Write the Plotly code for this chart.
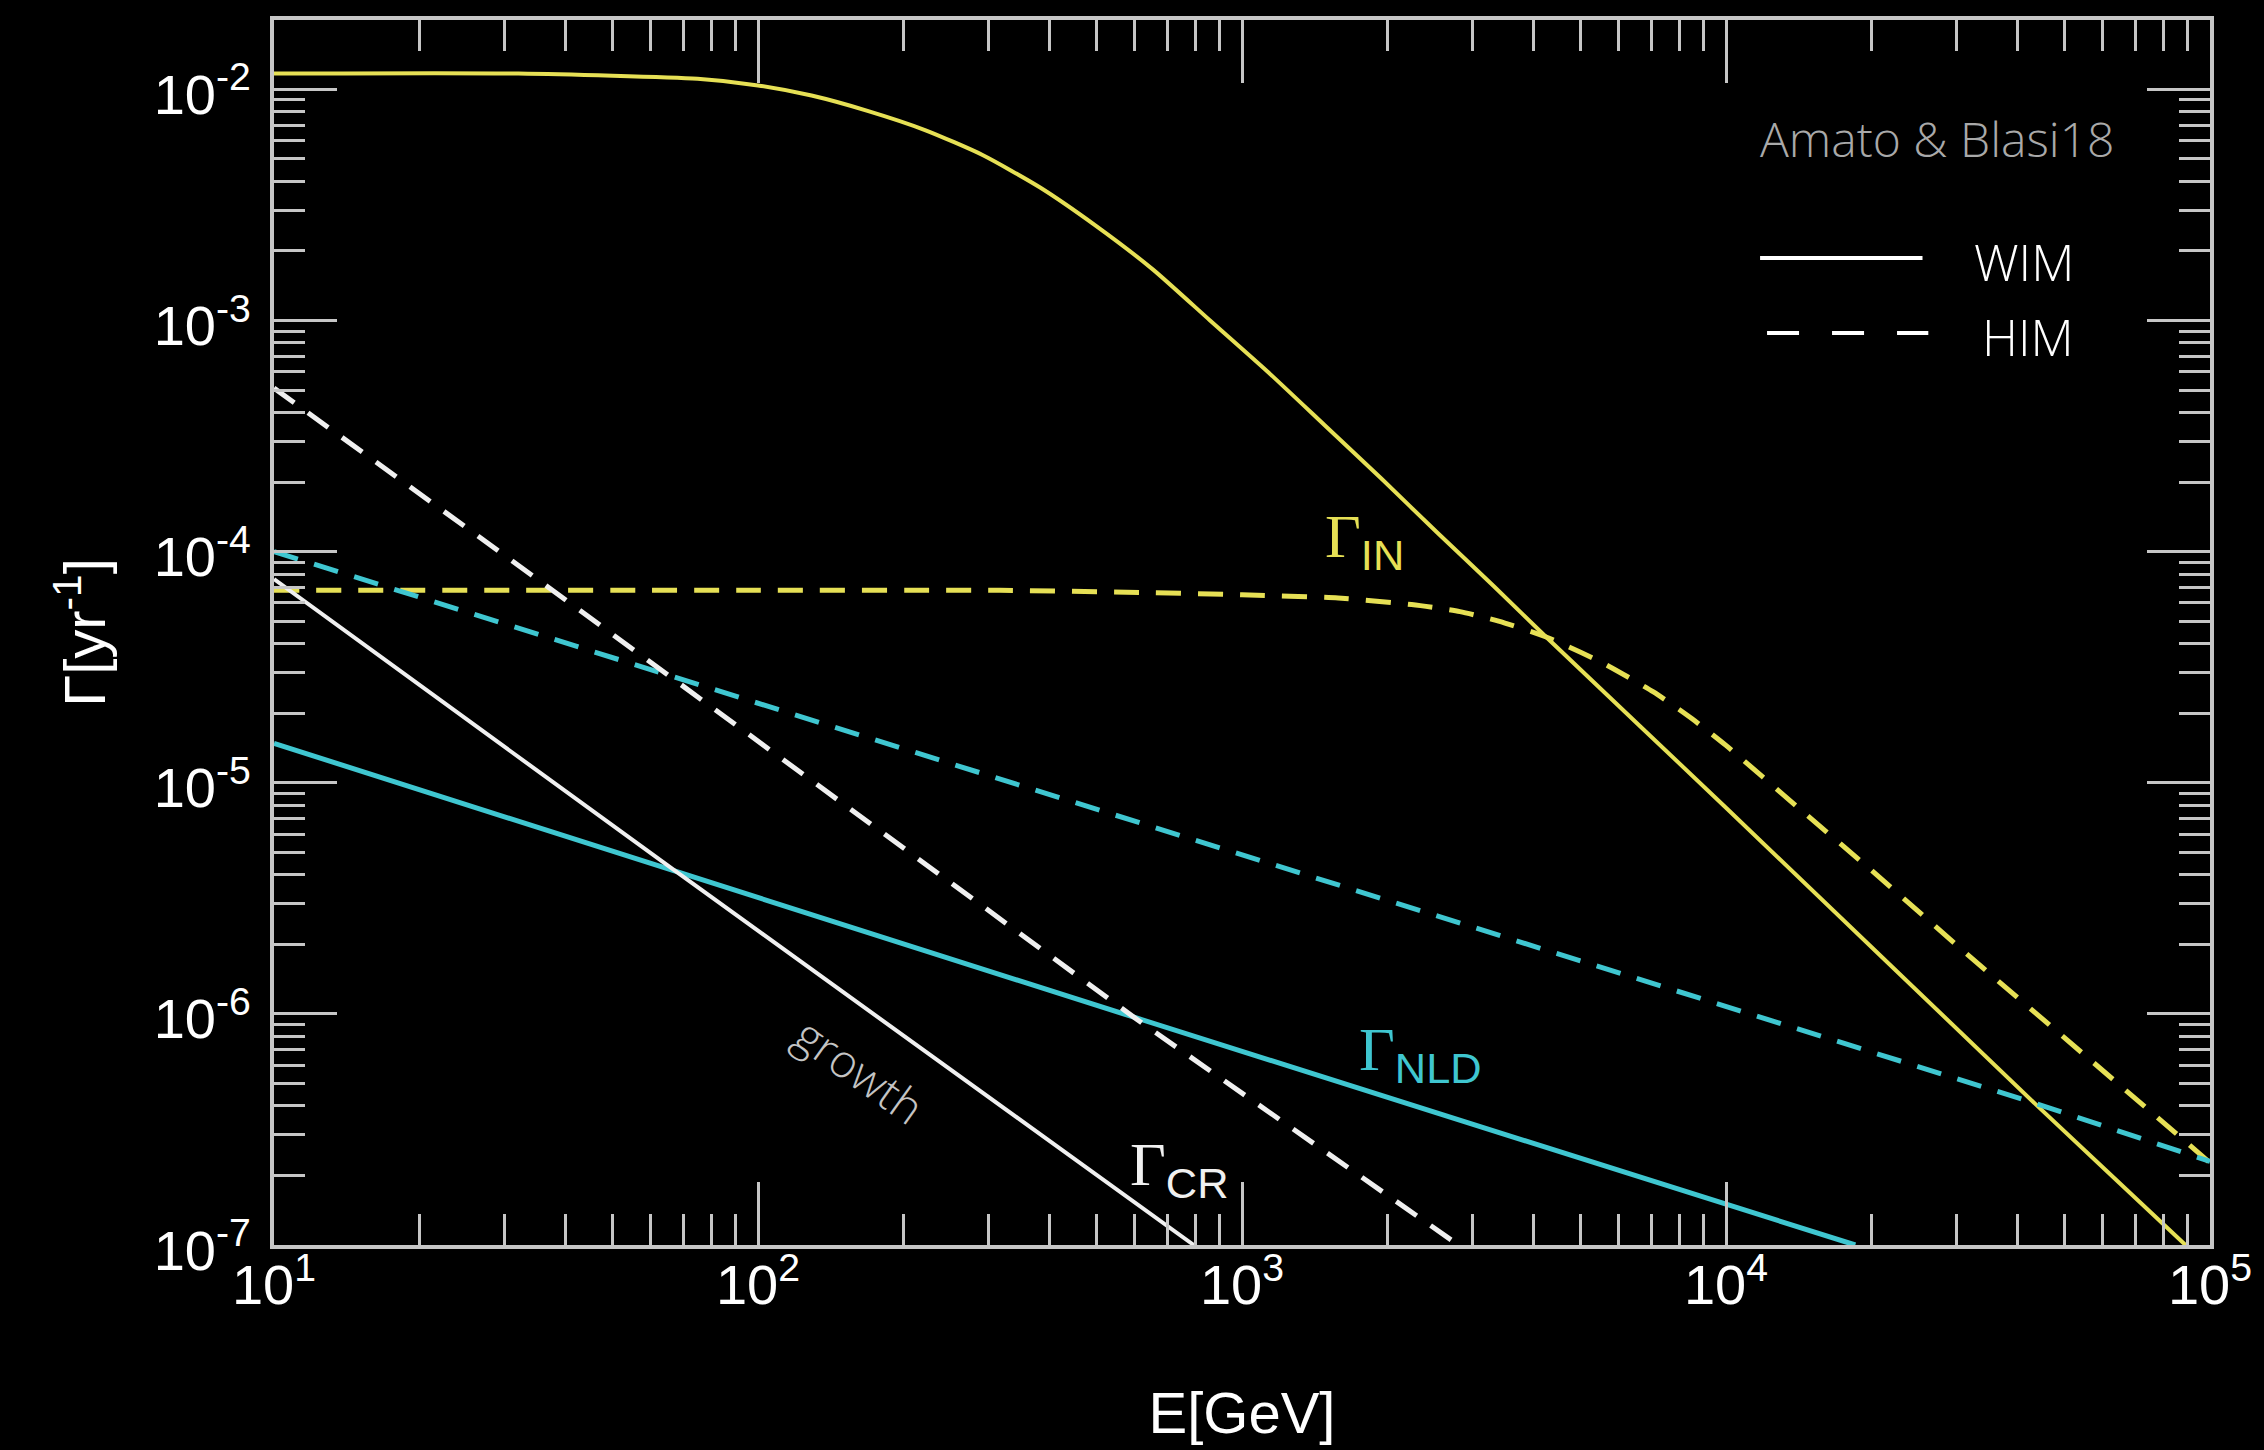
import plotly.graph_objects as go

# Energies in GeV, rates in yr^-1
# Ion-neutral damping (Gamma_IN)
E_in_wim = [10, 32, 75, 100, 129, 169, 222, 291, 382, 500, 655, 859, 1130, 1480, 1940, 2540,
            3310, 4250, 10000, 43600, 89000, 100000]
G_in_wim = [1.17e-2, 1.17e-2, 1.11e-2, 1.04e-2, 9.4e-3, 8.05e-3, 6.65e-3, 5.2e-3, 3.77e-3, 2.56e-3,
            1.66e-3, 1.0e-3, 6.0e-4, 3.53e-4, 2.07e-4, 1.2e-4, 7.1e-5, 4.27e-5, 7.8e-6, 4.07e-7,
            1.0e-7, 7.9e-8]
E_in_him = [10, 100, 316, 630, 1000, 1580, 2240, 2820, 3390, 4250, 5500, 7080, 8510, 10000, 14100,
            20000, 31600, 56200, 100000]
G_in_him = [6.8e-5, 6.8e-5, 6.8e-5, 6.65e-5, 6.5e-5, 6.3e-5, 5.9e-5, 5.5e-5, 5.0e-5, 4.27e-5,
            3.34e-5, 2.47e-5, 1.89e-5, 1.45e-5, 7.8e-6, 4.17e-6, 1.8e-6, 6.4e-7, 2.27e-7]

# Non-linear Landau damping (Gamma_NLD)
E_nld_wim = [10, 68, 605, 18500]
G_nld_wim = [1.48e-5, 4.1e-6, 9.6e-7, 1.0e-7]
E_nld_him = [10, 1290, 43600, 100000]
G_nld_him = [1.0e-4, 4.1e-6, 4.1e-7, 2.3e-7]

# Cosmic-ray driven growth (Gamma_CR)
E_cr_wim = [10, 68, 795, 1000]
G_cr_wim = [7.6e-5, 4.1e-6, 1.0e-7, 7.1e-8]
E_cr_him = [10, 35, 605, 2800]
G_cr_him = [5.1e-4, 7.6e-5, 9.5e-7, 1.0e-7]

# Axis ticks
x_tick_vals = [10, 100, 1000, 10000, 100000]
x_tick_text = ["10<sup>1</sup>", "10<sup>2</sup>", "10<sup>3</sup>", "10<sup>4</sup>", "10<sup>5</sup>"]
y_tick_vals = [1e-7, 1e-6, 1e-5, 1e-4, 1e-3, 1e-2]
y_tick_text = ["10<sup>-7</sup>", "10<sup>-6</sup>", "10<sup>-5</sup>", "10<sup>-4</sup>",
               "10<sup>-3</sup>", "10<sup>-2</sup>"]
x_minor_vals = [m * 10 ** k for k in range(1, 5) for m in range(2, 10)]
y_minor_vals = [m * 10.0 ** k for k in range(-7, -1) for m in range(2, 10)]

YELLOW = "#e6e055"
CYAN = "#3fc6d0"
WHITE = "#f0f0f0"
FRAME = "#c6c6c6"
GREY = "#a9a9a9"
DASH = "25px,17px"

fig = go.Figure()


def add_curve(E, G, color, dash=None, smooth=False, width=4):
    fig.add_trace(go.Scatter(
        x=E, y=G, mode="lines",
        line=dict(color=color, width=width, dash=dash or "solid",
                  shape="spline" if smooth else "linear", smoothing=0.6),
        hoverinfo="skip",
    ))


add_curve(E_in_wim, G_in_wim, YELLOW, smooth=True)
add_curve(E_in_him, G_in_him, YELLOW, DASH, smooth=True, width=5)
add_curve(E_nld_wim, G_nld_wim, CYAN, width=5)
add_curve(E_nld_him, G_nld_him, CYAN, DASH, width=5)
add_curve(E_cr_wim, G_cr_wim, WHITE)
add_curve(E_cr_him, G_cr_him, WHITE, DASH, width=5)

axis_common = dict(
    type="log", showgrid=False, zeroline=False,
    showline=True, linewidth=4, linecolor=FRAME, mirror="allticks",
    ticks="inside", ticklen=63, tickwidth=3, tickcolor=FRAME,
    tickmode="array",
    tickfont=dict(family="Liberation Sans, Arial, sans-serif", size=56, color="white"),
)

fig.update_xaxes(
    **axis_common, range=[1, 5],
    tickvals=x_tick_vals, ticktext=x_tick_text,
    minor=dict(tickmode="array", tickvals=x_minor_vals, ticks="inside",
               ticklen=31, tickwidth=3, tickcolor=FRAME, showgrid=False),
    ticklabelstandoff=-12,
    title=dict(text="E[GeV]", standoff=78,
               font=dict(family="Liberation Sans, Arial, sans-serif", size=58, color="white")),
)
fig.update_yaxes(
    **axis_common, range=[-7, -1.70],
    tickvals=y_tick_vals, ticktext=y_tick_text,
    minor=dict(tickmode="array", tickvals=y_minor_vals, ticks="inside",
               ticklen=31, tickwidth=3, tickcolor=FRAME, showgrid=False),
    ticklabelstandoff=8, ticklabelshift=5,
    title=dict(text="\u0393[yr<sup>-1</sup>]", standoff=30,
               font=dict(family="Liberation Sans, Arial, sans-serif", size=58, color="white")),
)

SANS_SUB = '<span style="font-family:Liberation Sans, Arial, sans-serif">{}</span>'


def gamma_label(u, v, sub, color):
    fig.add_annotation(
        x=u, y=v, xref="x", yref="y", showarrow=False,
        text="\u0393<sub>" + SANS_SUB.format(sub) + "</sub>",
        font=dict(family="Liberation Serif, Times New Roman, serif", size=62, color=color),
    )


gamma_label(3.254, -3.95, "IN", YELLOW)
gamma_label(3.369, -6.17, "NLD", CYAN)
gamma_label(2.871, -6.67, "CR", WHITE)

fig.add_annotation(
    x=2.211, y=-6.242, xref="x", yref="y", showarrow=False, text="growth",
    textangle=35.5,
    font=dict(family="Open Sans, sans-serif", size=46, color="#c4c4c4", weight=300),
)

# Key in the upper right corner
LIGHT = dict(family="Open Sans, sans-serif", weight=300)
fig.add_annotation(
    x=0.7666, y=0.903, xref="paper", yref="paper", xanchor="left", yanchor="middle",
    showarrow=False, text="Amato &amp; Blasi18",
    font=dict(**LIGHT, size=48, color=GREY),
)
fig.add_annotation(
    x=0.877, y=0.8024, xref="paper", yref="paper", xanchor="left", yanchor="middle",
    showarrow=False, text="WIM", font=dict(**LIGHT, size=50, color="white"),
)
fig.add_annotation(
    x=0.881, y=0.741, xref="paper", yref="paper", xanchor="left", yanchor="middle",
    showarrow=False, text="HIM", font=dict(**LIGHT, size=50, color="white"),
)
fig.add_shape(type="line", xref="paper", yref="paper", x0=0.7676, x1=0.8515, y0=0.8057, y1=0.8057,
              line=dict(color="white", width=4))
fig.add_shape(type="line", xref="paper", yref="paper", x0=0.7712, x1=0.8545, y0=0.7445, y1=0.7445,
              line=dict(color="white", width=4, dash="32px,33px"))

fig.update_layout(
    width=2264, height=1450,
    paper_bgcolor="black", plot_bgcolor="black",
    margin=dict(l=274, r=45, t=20, b=205),
    showlegend=False,
    font=dict(family="Liberation Sans, Arial, sans-serif", color="white"),
)

fig.write_html("out.html")
